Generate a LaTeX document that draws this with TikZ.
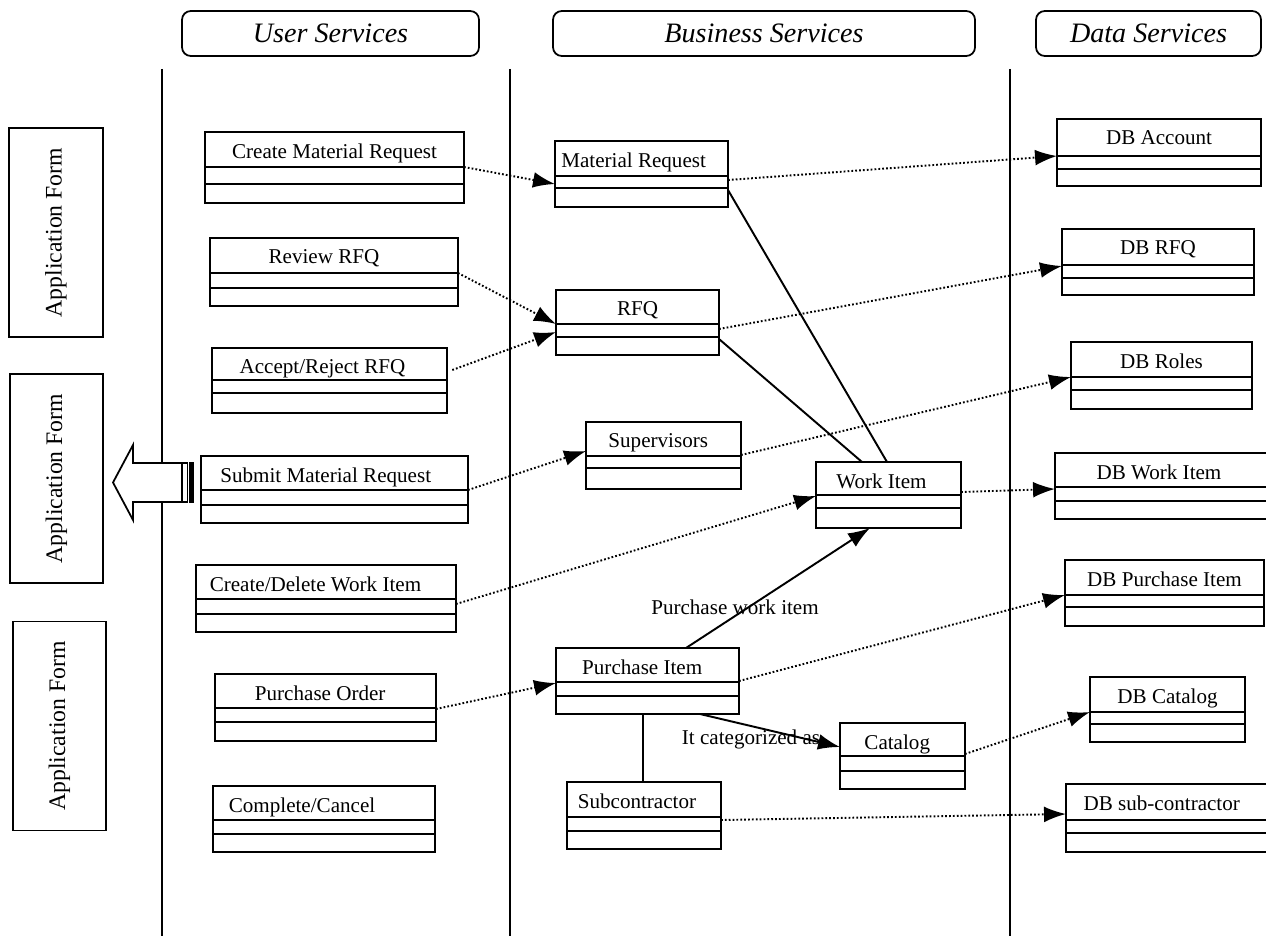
\documentclass[tikz,border=0pt]{standalone}
\usepackage{fontspec}
\setmainfont{Liberation Serif}
\usetikzlibrary{fit,arrows.meta}

\begin{document}
\begin{tikzpicture}[x=0.02cm, y=-0.02cm,
  cls/.style={draw, line width=1.1pt, inner sep=0pt, outer sep=0pt},
  ctext/.style={anchor=north, inner sep=0pt, yshift=-6.5pt, font=\fontsize{12}{14}\selectfont},
  hdr/.style={draw, line width=1pt, rounded corners=5pt, inner sep=0pt, outer sep=0pt},
  htext/.style={anchor=center, inner sep=0pt, font=\fontsize{16}{19}\selectfont\itshape},
  appform/.style={draw, line width=1.1pt, rotate=90, minimum width=4.18cm, minimum height=1.87cm, inner sep=0pt, font=\fontsize{13.5}{16}\selectfont},
  divline/.style={line width=1.1pt},
  colline/.style={line width=1pt},
  dep/.style={line width=1.1pt, dash pattern=on 1pt off 1.2pt, -{Latex[length=12.5pt,width=9pt]}},
  assoc/.style={line width=1.1pt},
  nav/.style={assoc, -{Latex[length=12.5pt,width=9pt]}},
  lbl/.style={inner sep=0pt, font=\fontsize{12}{14}\selectfont}]
\useasboundingbox (0,0) rectangle (1266,936);

% tiers
\node[hdr, fit={(182,11)(479,56)}, label={[htext]center:User Services}] (user) {};
\node[hdr, fit={(553,11)(975,56)}, label={[htext]center:Business Services}] (bus) {};
\node[hdr, fit={(1036,11)(1261,56)}, label={[htext]center:Data Services}] (data) {};
\draw[colline] (162,69) -- (162,936);
\draw[colline] (510,69) -- (510,936);
\draw[colline] (1010,69) -- (1010,936);

% forms
\node[appform] (af1) at (56,232.5) {Application Form};
\node[appform] (af2) at (56.5,478.5) {Application Form};
\node[appform] (af3) at (59.5,726) {Application Form};
\draw[line width=1pt, fill=white] (182,463) -- (133,463) -- (133,445) -- (113,482.5) -- (133,520) -- (133,502) -- (182,502) -- cycle;
\draw[line width=0.8pt] (182,463) rectangle (187.5,502);
\fill (188.5,462) rectangle (194,503);

% user services
\node[cls, fit={(205,132)(464,203)}, label={[ctext]north:Create Material Request}] (cmr) {};
\draw[divline] (cmr.west |- 0,167) -- (cmr.east |- 0,167) (cmr.west |- 0,184) -- (cmr.east |- 0,184);
\node[cls, fit={(210,238)(458,306)}, label={[ctext, xshift=-5.7pt]north:Review RFQ}] (rrfq) {};
\draw[divline] (rrfq.west |- 0,273) -- (rrfq.east |- 0,273) (rrfq.west |- 0,288) -- (rrfq.east |- 0,288);
\node[cls, fit={(212,348)(447,413)}, label={[ctext, xshift=-4pt]north:Accept/Reject RFQ}] (arfq) {};
\draw[divline] (arfq.west |- 0,380) -- (arfq.east |- 0,380) (arfq.west |- 0,393) -- (arfq.east |- 0,393);
\node[cls, fit={(201,456)(468,523)}, label={[ctext, xshift=-5pt]north:Submit Material Request}] (smr) {};
\draw[divline] (smr.west |- 0,490) -- (smr.east |- 0,490) (smr.west |- 0,505) -- (smr.east |- 0,505);
\node[cls, fit={(196,565)(456,632)}, label={[ctext, xshift=-6pt]north:Create/Delete Work Item}] (cdwi) {};
\draw[divline] (cdwi.west |- 0,599) -- (cdwi.east |- 0,599) (cdwi.west |- 0,614) -- (cdwi.east |- 0,614);
\node[cls, fit={(215,674)(436,741)}, label={[ctext, xshift=-3pt]north:Purchase Order}] (po) {};
\draw[divline] (po.west |- 0,708) -- (po.east |- 0,708) (po.west |- 0,722) -- (po.east |- 0,722);
\node[cls, fit={(213,786)(435,852)}, label={[ctext, xshift=-12.5pt]north:Complete/Cancel}] (cc) {};
\draw[divline] (cc.west |- 0,820) -- (cc.east |- 0,820) (cc.west |- 0,834) -- (cc.east |- 0,834);

% business services
\node[cls, fit={(555,141)(728,207)}, label={[ctext, xshift=-4.5pt]north:Material Request}] (mr) {};
\draw[divline] (mr.west |- 0,176) -- (mr.east |- 0,176) (mr.west |- 0,188) -- (mr.east |- 0,188);
\node[cls, fit={(556,290)(719,355)}, label={[ctext]north:RFQ}] (rfq) {};
\draw[divline] (rfq.west |- 0,324) -- (rfq.east |- 0,324) (rfq.west |- 0,337) -- (rfq.east |- 0,337);
\node[cls, fit={(586,422)(741,489)}, label={[ctext, xshift=-3pt]north:Supervisors}] (sup) {};
\draw[divline] (sup.west |- 0,456) -- (sup.east |- 0,456) (sup.west |- 0,468) -- (sup.east |- 0,468);
\node[cls, fit={(816,462)(961,528)}, label={[ctext, xshift=-4pt]north:Work Item}] (wi) {};
\draw[divline] (wi.west |- 0,495) -- (wi.east |- 0,495) (wi.west |- 0,508) -- (wi.east |- 0,508);
\node[cls, fit={(556,648)(739,714)}, label={[ctext, xshift=-3pt]north:Purchase Item}] (pi) {};
\draw[divline] (pi.west |- 0,682) -- (pi.east |- 0,682) (pi.west |- 0,696) -- (pi.east |- 0,696);
\node[cls, fit={(840,723)(965,789)}, label={[ctext, xshift=-3pt]north:Catalog}] (cat) {};
\draw[divline] (cat.west |- 0,756) -- (cat.east |- 0,756) (cat.west |- 0,771) -- (cat.east |- 0,771);
\node[cls, fit={(567,782)(721,849)}, label={[ctext, xshift=-4pt]north:Subcontractor}] (sub) {};
\draw[divline] (sub.west |- 0,817) -- (sub.east |- 0,817) (sub.west |- 0,831) -- (sub.east |- 0,831);

% data services
\node[cls, fit={(1057,119)(1261,186)}, label={[ctext]north:DB Account}] (dbacc) {};
\draw[divline] (dbacc.west |- 0,156) -- (dbacc.east |- 0,156) (dbacc.west |- 0,169) -- (dbacc.east |- 0,169);
\node[cls, fit={(1062,229)(1254,295)}, label={[ctext]north:DB RFQ}] (dbrfq) {};
\draw[divline] (dbrfq.west |- 0,265) -- (dbrfq.east |- 0,265) (dbrfq.west |- 0,278) -- (dbrfq.east |- 0,278);
\node[cls, fit={(1071,342)(1252,409)}, label={[ctext]north:DB Roles}] (dbrol) {};
\draw[divline] (dbrol.west |- 0,377) -- (dbrol.east |- 0,377) (dbrol.west |- 0,390) -- (dbrol.east |- 0,390);
\node[cls, fit={(1055,453)(1270,519)}, label={[ctext, xshift=-2pt]north:DB Work Item}] (dbwi) {};
\draw[divline] (dbwi.west |- 0,487) -- (dbwi.east |- 0,487) (dbwi.west |- 0,501) -- (dbwi.east |- 0,501);
\node[cls, fit={(1065,560)(1264,626)}, label={[ctext]north:DB Purchase Item}] (dbpi) {};
\draw[divline] (dbpi.west |- 0,595) -- (dbpi.east |- 0,595) (dbpi.west |- 0,607) -- (dbpi.east |- 0,607);
\node[cls, fit={(1090,677)(1245,742)}, label={[ctext]north:DB Catalog}] (dbcat) {};
\draw[divline] (dbcat.west |- 0,712) -- (dbcat.east |- 0,712) (dbcat.west |- 0,724) -- (dbcat.east |- 0,724);
\node[cls, fit={(1066,784)(1268,852)}, label={[ctext, xshift=-3pt]north:DB sub-contractor}] (dbsub) {};
\draw[divline] (dbsub.west |- 0,820) -- (dbsub.east |- 0,820) (dbsub.west |- 0,833) -- (dbsub.east |- 0,833);

% dependencies
\draw[dep] (cmr.east |- 0,167) -- (mr.west |- 0,184);
\draw[dep] (mr.east |- 0,180) -- (dbacc.west |- 0,156);
\draw[dep] (rrfq.east |- 0,273) -- (rfq.west |- 0,324);
\draw[dep] ([xshift=3pt]arfq.east |- 0,370) -- (rfq.west |- 0,332);
\draw[dep] (rfq.east |- 0,329) -- (dbrfq.west |- 0,266);
\draw[dep] (smr.east |- 0,490) -- (sup.west |- 0,451);
\draw[dep] (sup.east |- 0,455) -- (dbrol.west |- 0,377);
\draw[dep] (cdwi.east |- 0,604) -- (wi.west |- 0,496);
\draw[dep] (wi.east |- 0,492) -- (dbwi.west |- 0,489);
\draw[dep] (pi.east |- 0,681) -- (dbpi.west |- 0,595);
\draw[dep] (po.east |- 0,709) -- (pi.west |- 0,683);
\draw[dep] (cat.east |- 0,754) -- (dbcat.west |- 0,712);
\draw[dep] (sub.east |- 0,820) -- (dbsub.west |- 0,814);

% associations
\draw[assoc] (mr.east |- 0,190) -- (wi.north -| 887,0);
\draw[assoc] (rfq.east |- 0,339) -- (wi.north -| 862,0);
\draw[nav] (pi.north -| 686,0) -- (wi.south -| 870,0);
\draw[nav] (pi.south -| 700,0) -- (cat.west |- 0,747);
\draw[assoc] (pi.south -| 643,0) -- (sub.north -| 643,0);
\node[lbl] (pwi) at (735,607) {Purchase work item};
\node[lbl] (icat) at (751,739) {It categorized as};
\end{tikzpicture}
\end{document}
